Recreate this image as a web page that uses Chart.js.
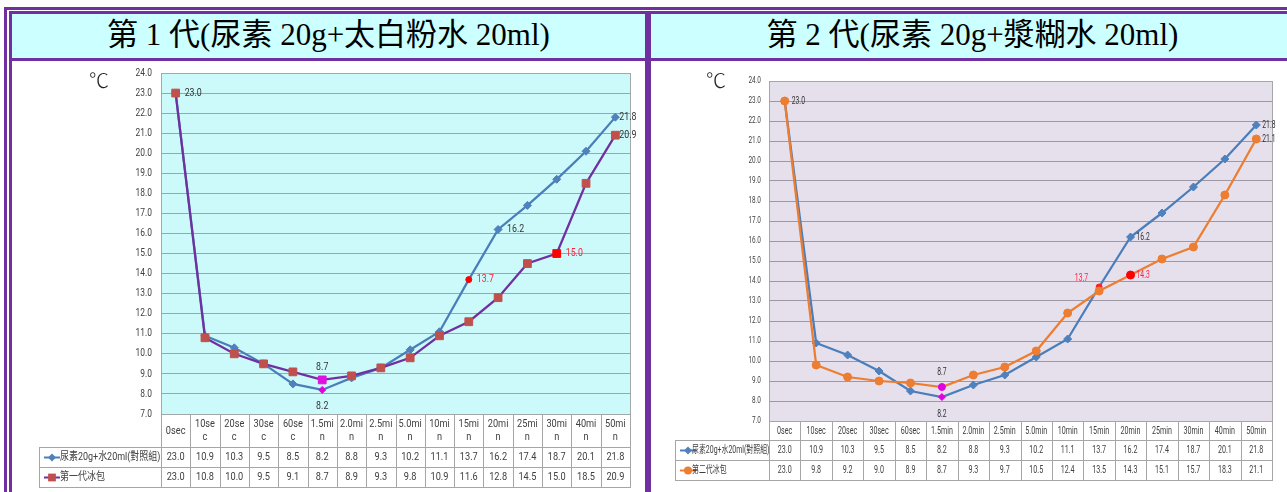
<!DOCTYPE html>
<html lang="zh-Hant">
<head>
<meta charset="utf-8">
<title>冰包降溫測試</title>
<script src="https://cdn.jsdelivr.net/npm/chart.js@4.4.1/dist/chart.umd.min.js"></script>
<style>
  html, body { margin:0; padding:0; background:#fff; }
  body { position:relative; width:1287px; height:492px; overflow:hidden; }
  .frame { position:absolute; left:4px; top:7px; width:1400px; height:600px; border:3px solid #7030A0; box-sizing:border-box; }
  .cell { position:absolute; border:3px solid #7030A0; box-sizing:border-box; background:#fff; }
  .head { top:11px; height:50px; background:#CCFFFF; display:flex; align-items:center; justify-content:center;
          font-family:"Liberation Serif","Noto Sans CJK TC",serif; font-size:31px; line-height:31px; padding-bottom:3px; color:#000; white-space:nowrap; }
  .body { top:58px; height:500px; }
  .p1 { left:9px; width:639px; }
  .p2 { left:648px; width:649px; }
  .unit { position:absolute; font-family:"Noto Sans CJK TC",sans-serif; font-size:20px; line-height:20px; font-weight:300; color:#222; }
  canvas { position:absolute; top:61px; }
  #chart1 { left:12px; }
  #chart2 { left:651px; }
</style>
</head>
<body>
<div class="frame"></div>
<div class="cell body p1"></div>
<div class="cell body p2"></div>
<div class="cell head p1">第 1 代(尿素 20g+太白粉水 20ml)</div>
<div class="cell head p2">第 2 代(尿素 20g+漿糊水 20ml)</div>
<canvas id="chart1" width="633" height="431"></canvas>
<canvas id="chart2" width="636" height="431"></canvas>
<div class="unit" style="left:89px;top:70px;">℃</div>
<div class="unit" style="left:706px;top:70px;">℃</div>

<script>
// Sampling times
const categories = ["0sec","10sec","20sec","30sec","60sec","1.5min","2.0min","2.5min","5.0min","10min","15min","20min","25min","30min","40min","50min"];
// Time labels as they wrap inside the narrow table cells of the first chart
const wrappedTicks = [["0sec"],["10se","c"],["20se","c"],["30se","c"],["60se","c"],["1.5mi","n"],["2.0mi","n"],["2.5mi","n"],["5.0mi","n"],["10mi","n"],["15mi","n"],["20mi","n"],["25mi","n"],["30mi","n"],["40mi","n"],["50mi","n"]];
const singleTicks = categories.map(c => [c]);
// Temperature axis (°C)
const yMin = 7, yMax = 24, yStep = 1;

// Series names
const controlName = "尿素20g+水20ml(對照組)";
const gen1Name = "第一代冰包";
const gen2Name = "第二代冰包";

// Measured temperatures (°C)
const control = [23.0, 10.9, 10.3, 9.5, 8.5, 8.2, 8.8, 9.3, 10.2, 11.1, 13.7, 16.2, 17.4, 18.7, 20.1, 21.8];
const gen1    = [23.0, 10.8, 10.0, 9.5, 9.1, 8.7, 8.9, 9.3, 9.8, 10.9, 11.6, 12.8, 14.5, 15.0, 18.5, 20.9];
const gen2    = [23.0, 9.8, 9.2, 9.0, 8.9, 8.7, 9.3, 9.7, 10.5, 12.4, 13.5, 14.3, 15.1, 15.7, 18.3, 21.1];

const FONT = 'Roboto, "Noto Sans CJK TC", sans-serif';

function marker(base, special) {
  const pick = (i) => special[i] || base;
  return {
    pointStyle: c => pick(c.dataIndex).style,
    pointRadius: c => pick(c.dataIndex).r,
    pointBackgroundColor: c => pick(c.dataIndex).color,
    pointBorderColor: c => pick(c.dataIndex).color,
    pointBorderWidth: 1,
    pointHoverRadius: c => pick(c.dataIndex).r
  };
}

function drawKey(ctx, x, y, lineColor, mk) {
  ctx.save();
  ctx.strokeStyle = lineColor; ctx.lineWidth = 2;
  ctx.beginPath(); ctx.moveTo(x - 8, y); ctx.lineTo(x + 8, y); ctx.stroke();
  ctx.fillStyle = mk.color;
  ctx.beginPath();
  const r = mk.r;
  if (mk.style === 'rect') { const s = r * Math.SQRT1_2; ctx.rect(x - s, y - s, 2 * s, 2 * s); }
  else if (mk.style === 'rectRot') { ctx.moveTo(x, y - r); ctx.lineTo(x + r, y); ctx.lineTo(x, y + r); ctx.lineTo(x - r, y); ctx.closePath(); }
  else { ctx.arc(x, y, r, 0, Math.PI * 2); }
  ctx.fill();
  ctx.restore();
}

function squeezedText(ctx, text, x, y, sx) {
  ctx.save();
  ctx.translate(x, y);
  ctx.scale(sx, 1);
  ctx.fillText(text, 0, 0);
  ctx.restore();
}

function buildPanel(canvasId, spec) {
  const canvas = document.getElementById(canvasId);
  const W = canvas.width, H = canvas.height;

  const panelPlugin = {
    id: 'panel',
    beforeDraw(chart) {
      const { ctx, chartArea: ca } = chart;
      ctx.save();
      ctx.fillStyle = spec.plotBg;
      ctx.fillRect(ca.left, ca.top, ca.right - ca.left, ca.bottom - ca.top);
      ctx.restore();
    },
    beforeDatasetsDraw(chart) {
      const { ctx, chartArea: ca } = chart;
      ctx.save();
      ctx.strokeStyle = spec.frameColor; ctx.lineWidth = 1;
      ctx.strokeRect(Math.round(ca.left) + 0.5, Math.round(ca.top) + 0.5, Math.round(ca.right - ca.left), Math.round(ca.bottom - ca.top));
      // temperature tick labels
      const ys = chart.scales.y;
      ctx.fillStyle = spec.tickColor;
      ctx.font = spec.tickFont;
      ctx.textAlign = 'right'; ctx.textBaseline = 'middle';
      ys.ticks.forEach(t => {
        squeezedText(ctx, t.value.toFixed(1), ca.left - spec.tickGap, ys.getPixelForValue(t.value), spec.squeeze);
      });
      ctx.restore();
    },
    afterDatasetsDraw(chart) {
      const ctx = chart.ctx;
      ctx.save();
      ctx.font = spec.noteFont;
      ctx.textBaseline = 'middle';
      spec.notes.forEach(n => {
        const pt = chart.getDatasetMeta(n.ds).data[n.i];
        const v = chart.data.datasets[n.ds].data[n.i];
        ctx.fillStyle = n.color;
        ctx.textAlign = n.align;
        squeezedText(ctx, v.toFixed(1), pt.x + n.dx, pt.y + n.dy, spec.squeeze);
      });
      ctx.restore();
    },
    afterDraw(chart) {
      const { ctx, chartArea: ca } = chart;
      const xs = chart.scales.x;
      const n = spec.ticks.length;
      const colW = (ca.right - ca.left) / n;
      const y0 = ca.bottom, y1 = y0 + spec.headH, y2 = y1 + spec.rowH, y3 = y2 + spec.rowH;
      const lx = spec.legendLeft;
      ctx.save();
      ctx.strokeStyle = spec.tableLine; ctx.lineWidth = 1;
      ctx.beginPath();
      for (let i = 0; i <= n; i++) {
        const x = Math.round(ca.left + i * colW) + 0.5;
        ctx.moveTo(x, y0); ctx.lineTo(x, y3);
      }
      ctx.moveTo(lx + 0.5, y1); ctx.lineTo(lx + 0.5, y3);
      [y1, y2, y3].forEach(y => {
        const yy = Math.round(y) + 0.5;
        ctx.moveTo(lx, yy); ctx.lineTo(Math.round(ca.right) + 1, yy);
      });
      ctx.stroke();

      ctx.fillStyle = spec.textColor;
      ctx.font = spec.tableFont;
      ctx.textAlign = 'center'; ctx.textBaseline = 'middle';
      spec.ticks.forEach((lines, i) => {
        const cx = xs.getPixelForValue(i);
        const mid = (y0 + y1) / 2 + 0.5;
        lines.forEach((t, k) => squeezedText(ctx, t, cx, mid + (k - (lines.length - 1) / 2) * spec.lineH, spec.squeeze));
      });
      chart.data.datasets.forEach((ds, r) => {
        const cy = y1 + (r + 0.5) * spec.rowH + 0.5;
        ctx.fillStyle = spec.textColor;
        ctx.font = spec.tableFont;
        ctx.textAlign = 'center';
        ds.data.forEach((v, i) => squeezedText(ctx, v.toFixed(1), xs.getPixelForValue(i), cy, spec.squeeze));
        drawKey(ctx, lx + 13, cy, ds.borderColor, spec.keys[r]);
        ctx.fillStyle = spec.textColor;
        ctx.font = spec.legendFont;
        ctx.textAlign = 'left';
        squeezedText(ctx, ds.label, lx + spec.keyText, cy, spec.legendSqueeze);
      });
      ctx.restore();
    }
  };

  return new Chart(canvas, {
    type: 'line',
    data: { labels: categories, datasets: spec.datasets },
    options: {
      responsive: false,
      animation: false,
      events: [],
      layout: { padding: { left: spec.area.left - 10, top: spec.area.top, right: W - spec.area.right, bottom: H - spec.area.bottom } },
      plugins: { legend: { display: false }, tooltip: { enabled: false } },
      scales: {
        x: {
          type: 'category', offset: true,
          grid: { display: false, drawTicks: false },
          border: { display: false },
          ticks: { display: false },
          afterFit(s) { s.height = 0; }
        },
        y: {
          min: yMin, max: yMax,
          ticks: { display: false, stepSize: yStep },
          grid: { color: spec.gridColor, lineWidth: 1, drawTicks: false },
          border: { display: false },
          afterFit(s) { s.width = 10; }
        }
      }
    },
    plugins: [panelPlugin]
  });
}

// First generation: corn-starch water
const blue = '#4A7EBB';
const p1Keys = [
  { style: 'rectRot', r: 4, color: '#4F81BD' },
  { style: 'rect', r: 5.5, color: '#C0504D' }
];
buildPanel('chart1', {
  area: { left: 149, top: 12, right: 618, bottom: 353 },
  plotBg: '#CCFAFA', frameColor: '#A0A8AA', gridColor: '#8FAAB0',
  tickColor: '#404040', tickFont: '10.5px ' + FONT, tickGap: 9,
  squeeze: 0.8,
  noteFont: '11px ' + FONT,
  tableLine: '#A6A6A6', textColor: '#404040', tableFont: '11.5px ' + FONT,
  legendFont: '11.5px ' + FONT, legendSqueeze: 0.78, keyText: 21,
  ticks: wrappedTicks, headH: 33, rowH: 20, lineH: 13, legendLeft: 27,
  keys: p1Keys,
  datasets: [
    Object.assign({ label: controlName, data: control, borderColor: blue, borderWidth: 2.25, tension: 0, order: 1 },
      marker(p1Keys[0], { 5: { style: 'rectRot', r: 3.5, color: '#E000E0' }, 10: { style: 'circle', r: 3, color: '#FF0000' } })),
    Object.assign({ label: gen1Name, data: gen1, borderColor: '#7030A0', borderWidth: 2.25, tension: 0, order: 0 },
      marker(p1Keys[1], { 5: { style: 'rect', r: 5.5, color: '#E010E0' }, 13: { style: 'rect', r: 5.5, color: '#FF0000' } }))
  ],
  notes: [
    { ds: 1, i: 0, dx: 9, dy: 0, align: 'left', color: '#333' },
    { ds: 1, i: 5, dx: 0, dy: -13, align: 'center', color: '#333' },
    { ds: 0, i: 5, dx: 0, dy: 16, align: 'center', color: '#333' },
    { ds: 0, i: 10, dx: 8, dy: 0, align: 'left', color: '#FF2040' },
    { ds: 0, i: 11, dx: 9, dy: 0, align: 'left', color: '#333' },
    { ds: 1, i: 13, dx: 9, dy: 0, align: 'left', color: '#FF2040' },
    { ds: 0, i: 15, dx: 4, dy: 0, align: 'left', color: '#333' },
    { ds: 1, i: 15, dx: 4, dy: 0, align: 'left', color: '#333' }
  ]
});

// Second generation: paste water
const p2Keys = [
  { style: 'rectRot', r: 4, color: '#4F81BD' },
  { style: 'circle', r: 4, color: '#ED7D31' }
];
buildPanel('chart2', {
  area: { left: 118, top: 20, right: 621, bottom: 360 },
  plotBg: '#E6E0EC', frameColor: '#A6A6A6', gridColor: '#9E98A6',
  tickColor: '#404040', tickFont: '9.5px ' + FONT, tickGap: 8,
  squeeze: 0.68,
  noteFont: '10px ' + FONT,
  tableLine: '#A6A6A6', textColor: '#404040', tableFont: '10.5px ' + FONT,
  legendFont: '10.5px ' + FONT, legendSqueeze: 0.66, keyText: 17,
  ticks: singleTicks, headH: 19, rowH: 20, lineH: 12, legendLeft: 24,
  keys: p2Keys,
  datasets: [
    Object.assign({ label: controlName, data: control, borderColor: blue, borderWidth: 2.25, tension: 0, order: 1 },
      marker(p2Keys[0], { 5: { style: 'rectRot', r: 3.5, color: '#E000E0' }, 10: { style: 'circle', r: 3, color: '#FF2020' } })),
    Object.assign({ label: gen2Name, data: gen2, borderColor: '#ED7D31', borderWidth: 2.25, tension: 0, order: 0 },
      marker({ style: 'circle', r: 4, color: '#ED7D31' }, { 5: { style: 'circle', r: 3.5, color: '#E000E0' }, 11: { style: 'circle', r: 4, color: '#FF0000' } }))
  ],
  notes: [
    { ds: 1, i: 0, dx: 7, dy: 0, align: 'left', color: '#333' },
    { ds: 1, i: 5, dx: 0, dy: -15, align: 'center', color: '#333' },
    { ds: 0, i: 5, dx: 0, dy: 17, align: 'center', color: '#333' },
    { ds: 0, i: 10, dx: -11, dy: -9, align: 'right', color: '#FF2040' },
    { ds: 1, i: 11, dx: 6, dy: 0, align: 'left', color: '#FF2040' },
    { ds: 0, i: 11, dx: 6, dy: 0, align: 'left', color: '#333' },
    { ds: 0, i: 15, dx: 6, dy: 0, align: 'left', color: '#333' },
    { ds: 1, i: 15, dx: 6, dy: 0, align: 'left', color: '#333' }
  ]
});
</script>
</body>
</html>
